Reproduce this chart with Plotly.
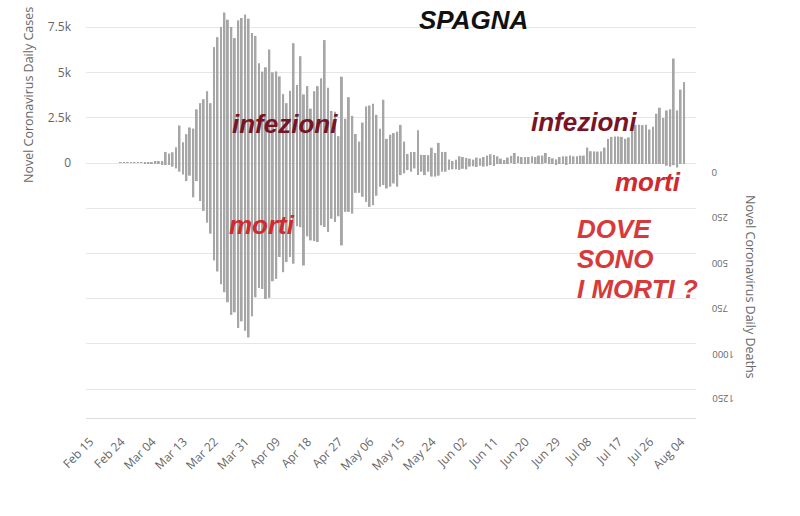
import pandas as pd
import plotly.graph_objects as go

# ---------------- data ----------------
dates = pd.date_range("2020-02-15", "2020-08-06", freq="D")

cases = (
    [0] * 10
    + [1, 1, 2, 6, 20, 30, 35, 45, 55, 40, 60, 90, 110]
    + [611, 520, 590, 870, 2070, 1150, 1590, 1960, 1900, 2960,
       3300, 3520, 3960, 3300, 6390, 6940, 7500, 8300, 7900, 7500,
       6890, 7870, 8000, 8190, 7960, 7170, 7000, 5500, 5040, 5280,
       6260, 5000, 5050, 4780, 3800, 3300, 3980, 6610, 4300, 5890]
    + [3780, 4240, 3000, 3960, 4240, 4670, 6780, 4150, 2870, 2830, 1480]
    + [4760, 2440, 3630, 2600, 1600, 1180, 2230, 3120, 3170, 3270,
       2660, 1890, 3490, 1330, 1560, 1650, 1730, 2100, 1180, 500,
       600, 610, 1800, 450, 440, 430, 840, 550, 1110, 610, 610]
    + [190, 110, 185, 370, 330, 280, 240, 185, 300, 260,
       330, 410, 480, 440, 370, 240, 170, 300, 390, 555,
       370, 330, 330, 330, 370, 330, 410, 410, 555, 330,
       260, 200, 330, 370, 370, 410, 370, 370, 410, 410]
    + [850, 650, 640, 630, 640, 850, 1330, 1440, 1460, 1460,
       1440, 1330, 1410, 2120, 2100, 2110, 2090, 2110, 1850, 2000,
       2720, 3050, 2480, 2900, 2960, 5760, 2900, 4050, 4460]
)

deaths = (
    [0] * 17
    + [1, 1, 2, 3, 5, 7]
    + [11, 10, 20, 30, 48, 63, 100, 70, 190, 100]
    + [210, 265, 330, 391, 539, 600, 670, 715, 770, 840]
    + [826, 913, 876, 928, 965, 848, 743, 691, 697, 752]
    + [746, 654, 641, 520, 604, 548, 520, 557, 350, 355]
    + [567, 406, 428, 432, 437, 345, 354, 382, 308, 326]
    + [295, 456, 270, 270, 280, 165, 165, 187, 215, 243]
    + [233, 181, 131, 122, 141, 131, 113, 131, 67, 57]
    + [39, 48, 30, 67, 48, 67, 48, 75, 75, 70]
    + [48, 48, 38, 35, 35, 38, 32, 35, 20, 18]
    + [22, 15, 20, 18, 12, 16, 5, 3, 2, 4]
    + [0, 2, 0, 3, 1, 2, 0, 1, 4, 2]
    + [0, 1, 3, 8, 2, 1, 8, 2, 1, 3]
    + [2, 1, 2, 3, 1, 2, 3, 2, 1, 2]
    + [3, 2, 1, 2, 3, 2, 1, 2, 3, 2]
    + [2, 3, 2, 1, 2, 15, 20, 12, 25, 3, 2]
)

tick_dates = pd.date_range("2020-02-15", periods=20, freq="9D")
tick_labels = [d.strftime("%b %d") for d in tick_dates]

case_ticks = [0, 2500, 5000, 7500]
case_tick_text = ["0", "2.5k", "5k", "7.5k"]
death_ticks = [0, 250, 500, 750, 1000, 1250]
death_tick_text = ["0", "250", "500", "750", "1000", "1250"]

# ---------------- layout geometry ----------------
W, H = 800, 516
L, R, T, B = 86, 104, 10, 98
PW, PH = W - L - R, H - T - B
PLOT_BOTTOM = T + PH
ZERO_Y = 163
PX_PER_DAY = 3.456
FEB15_X = 86.2

case_per_px = 2500 / 45.33
death_per_px = 250 / 45.2
case_range = [-(PLOT_BOTTOM - ZERO_Y) * case_per_px, (ZERO_Y - T) * case_per_px]
death_range = [(PLOT_BOTTOM - ZERO_Y) * death_per_px, -(ZERO_Y - T) * death_per_px]

x_start = pd.Timestamp("2020-02-15") + pd.Timedelta(days=(L - FEB15_X) / PX_PER_DAY)
x_end = x_start + pd.Timedelta(days=PW / PX_PER_DAY)


def px(x):
    return (x - L) / PW


def py(y):
    return (PLOT_BOTTOM - y) / PH


BAR = "#a6a6a6"
GRID = "#e6e6e6"
AXIS_TXT = "#666666"

fig = go.Figure()
fig.add_trace(go.Bar(x=dates, y=cases, marker=dict(color=BAR, line=dict(width=0)),
                     yaxis="y", name="cases", offsetgroup="a"))
fig.add_trace(go.Bar(x=dates, y=deaths, marker=dict(color=BAR, line=dict(width=0)),
                     yaxis="y2", name="deaths", offsetgroup="a"))

fig.update_layout(
    width=W, height=H,
    margin=dict(l=L, r=R, t=T, b=B, pad=0),
    paper_bgcolor="white", plot_bgcolor="white",
    showlegend=False,
    barmode="overlay", bargap=0.45,
    font=dict(family="Open Sans", color=AXIS_TXT, size=12),
    xaxis=dict(
        type="date", range=[x_start, x_end],
        tickvals=list(tick_dates), ticktext=tick_labels,
        tickangle=-45, tickfont=dict(size=12, color=AXIS_TXT),
        showgrid=False, zeroline=False,
        showline=True, linecolor="#dcdcdc", linewidth=1,
        ticks="", ticklabelstandoff=11, ticklabelshift=4,
    ),
    yaxis=dict(
        range=case_range, tickvals=case_ticks, ticktext=case_tick_text,
        tickfont=dict(size=12, color=AXIS_TXT),
        showgrid=True, gridcolor=GRID, gridwidth=1,
        zeroline=False, showline=False, ticks="",
        ticklabelstandoff=14,
    ),
    yaxis2=dict(
        overlaying="y", side="right",
        range=death_range, tickvals=death_ticks,
        showticklabels=False,
        showgrid=True, gridcolor=GRID, gridwidth=1,
        zeroline=False, showline=False, ticks="",
    ),
)

# upside-down tick labels of the deaths axis, placed on the deaths scale
for v, t in zip(death_ticks, death_tick_text):
    fig.add_annotation(text=t, x=px(710), xref="paper", y=v, yref="y2",
                       xanchor="left", yanchor="middle", yshift=-10,
                       textangle=180, showarrow=False,
                       font=dict(family="Open Sans", size=9.5, color=AXIS_TXT))

ann_font = "Liberation Sans"
annotations = [
    dict(text="<b><i>SPAGNA</i></b>", x=px(417), y=py(20), color="#111111"),
    dict(text="<b><i>infezioni</i></b>", x=px(230), y=py(124), color="#781426"),
    dict(text="<b><i>morti</i></b>", x=px(227), y=py(225), color="#d02a2e"),
    dict(text="<b><i>infezioni</i></b>", x=px(529), y=py(122), color="#781426"),
    dict(text="<b><i>morti</i></b>", x=px(613), y=py(182), color="#d02a2e"),
    dict(text="<b><i>DOVE</i></b>", x=px(575), y=py(229), color="#d63a3a"),
    dict(text="<b><i>SONO</i></b>", x=px(575), y=py(259), color="#d63a3a"),
    dict(text="<b><i>I MORTI ?</i></b>", x=px(575), y=py(289), color="#d63a3a"),
]
for a in annotations:
    fig.add_annotation(
        text=a["text"], x=a["x"], y=a["y"], xref="paper", yref="paper",
        xanchor="left", yanchor="middle", showarrow=False,
        font=dict(family=ann_font, size=26, color=a["color"]),
    )

# axis titles
fig.add_annotation(text="Novel Coronavirus Daily Cases", x=px(28), y=py(95),
                   xref="paper", yref="paper", showarrow=False, textangle=-90,
                   xanchor="center", yanchor="middle",
                   font=dict(family="Open Sans", size=12.5, color=AXIS_TXT))
fig.add_annotation(text="Novel Coronavirus Daily Deaths", x=px(751), y=py(287),
                   xref="paper", yref="paper", showarrow=False, textangle=90,
                   xanchor="center", yanchor="middle",
                   font=dict(family="Open Sans", size=12.5, color=AXIS_TXT))

fig.write_html("out.html")
